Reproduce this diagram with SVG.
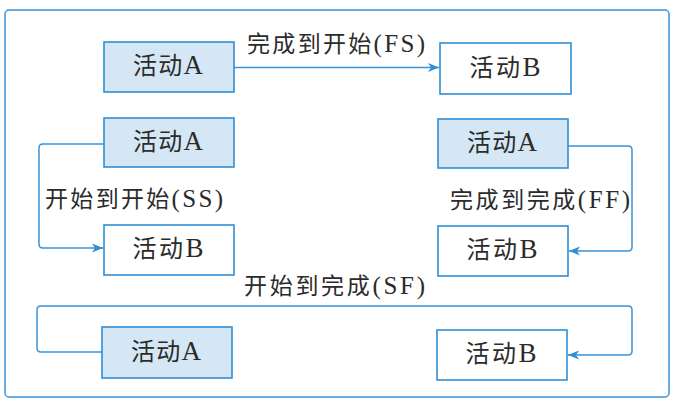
<svg xmlns="http://www.w3.org/2000/svg" width="674" height="403" viewBox="0 0 674 403">
<style>
.frame{fill:#fff;stroke:#3a93d6;stroke-width:1.5}
.a{fill:#d5e7f5;stroke:#2f8fd6;stroke-width:1.6}
.b{fill:#fff;stroke:#2f8fd6;stroke-width:1.6}
.t{font-family:"Liberation Serif","Noto Sans CJK SC",serif;fill:#2b2b2b}
.n{font-size:24px;text-anchor:middle}
.k{font-size:27px}
.l{font-size:23px}
.e{font-size:25px}
.c{fill:none;stroke:#3a93d6;stroke-width:1.5}
</style>
<defs>
<marker id="arr" markerUnits="userSpaceOnUse" markerWidth="12" markerHeight="10" refX="11" refY="5" orient="auto">
<path d="M0,0.5 L11,5 L0,9.5 L3,5 z" fill="#2f8fd6"/>
</marker>
</defs>
<rect class="frame" x="5" y="10" width="664" height="387" rx="4"/>
<g id="connectors">
<path class="c" d="M234,67.5 H439" marker-end="url(#arr)"/>
<path class="c" d="M104,144 H43 Q39,144 39,148 V244 Q39,248 43,248 H103" marker-end="url(#arr)"/>
<path class="c" d="M568,146 H628 Q632,146 632,150 V247 Q632,251 628,251 H569" marker-end="url(#arr)"/>
<path class="c" d="M102,352 H41 Q37,352 37,348 V310 Q37,306 41,306 H628 Q632,306 632,310 V351 Q632,355 628,355 H568" marker-end="url(#arr)"/>
</g>
<g id="labels">
<text class="t l" x="247" y="52" textLength="178" lengthAdjust="spacing">完成到开始<tspan class="e">(FS)</tspan></text>
<text class="t l" x="45" y="207" textLength="178" lengthAdjust="spacing">开始到开始<tspan class="e">(SS)</tspan></text>
<text class="t l" x="450" y="208" textLength="180" lengthAdjust="spacing">完成到完成<tspan class="e">(FF)</tspan></text>
<text class="t l" x="244" y="294" textLength="181" lengthAdjust="spacing">开始到完成<tspan class="e">(SF)</tspan></text>
</g>
<g id="fs-a"><rect class="a" x="104" y="42" width="130" height="50"/><text class="t n" x="168" y="74" textLength="70">活动<tspan class="k">A</tspan></text></g>
<g id="fs-b"><rect class="b" x="440" y="43" width="131" height="51"/><text class="t n" x="505" y="75.5" textLength="71">活动<tspan class="k">B</tspan></text></g>
<g id="ss-a"><rect class="a" x="104" y="118" width="130" height="49"/><text class="t n" x="168" y="149.5" textLength="70">活动<tspan class="k">A</tspan></text></g>
<g id="ss-b"><rect class="b" x="104" y="225" width="130" height="50"/><text class="t n" x="168" y="257" textLength="71">活动<tspan class="k">B</tspan></text></g>
<g id="ff-a"><rect class="a" x="438" y="119" width="130" height="49"/><text class="t n" x="502" y="150.5" textLength="70">活动<tspan class="k">A</tspan></text></g>
<g id="ff-b"><rect class="b" x="438" y="226" width="130" height="50"/><text class="t n" x="502" y="258" textLength="71">活动<tspan class="k">B</tspan></text></g>
<g id="sf-a"><rect class="a" x="102" y="327" width="130" height="51"/><text class="t n" x="166" y="359.5" textLength="70">活动<tspan class="k">A</tspan></text></g>
<g id="sf-b"><rect class="b" x="437" y="330" width="130" height="50"/><text class="t n" x="501" y="362" textLength="71">活动<tspan class="k">B</tspan></text></g>
</svg>
